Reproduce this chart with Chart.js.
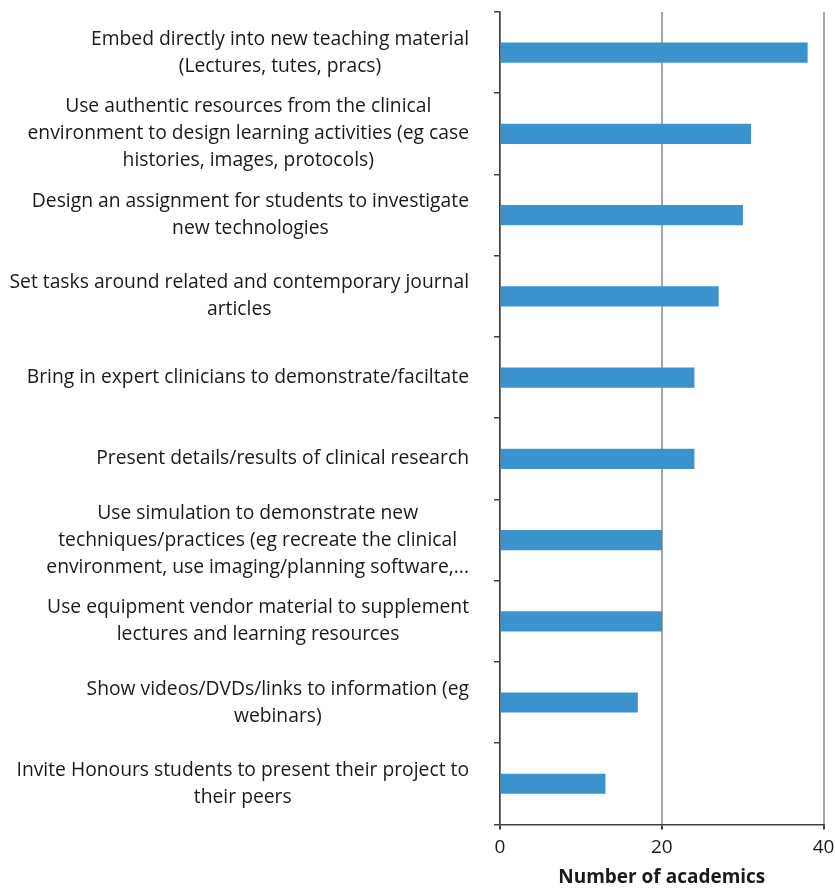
<!DOCTYPE html>
<html>
<head>
<meta charset="utf-8">
<script src="https://cdn.jsdelivr.net/npm/chart.js@4/dist/chart.umd.min.js"></script>
<style>
  html, body { margin: 0; padding: 0; background: #fff; }
  #wrap { width: 835px; height: 889px; position: relative; }
</style>
</head>
<body>
<div id="wrap"><canvas id="c"></canvas></div>
<script>
const categories = [
  ["Embed directly into new teaching material", "(Lectures, tutes, pracs)"],
  ["Use authentic resources from the clinical", "environment to design learning activities (eg case", "histories, images, protocols)"],
  ["Design an assignment for students to investigate", "new technologies"],
  ["Set tasks around related and contemporary journal", "articles"],
  ["Bring in expert clinicians to demonstrate/faciltate"],
  ["Present details/results of clinical research"],
  ["Use simulation to demonstrate new", "techniques/practices (eg recreate the clinical", "environment, use imaging/planning software,..."],
  ["Use equipment vendor material to supplement", "lectures and learning resources"],
  ["Show videos/DVDs/links to information (eg", "webinars)"],
  ["Invite Honours students to present their project to", "their peers"]
];
const academics = [38, 31, 30, 27, 24, 24, 20, 20, 17, 13];
const xTicks = [0, 20, 40];
const xTitle = "Number of academics";

const FONT = "Open Sans";
const labelFont = { family: FONT, size: 19.3 };

const labelPlugin = {
  id: 'blockLabels',
  afterDraw(chart) {
    const ys = chart.scales.y;
    const ctx = chart.ctx;
    ctx.save();
    ctx.font = labelFont.size + "px " + labelFont.family;
    ctx.fillStyle = "#1a1a1a";
    ctx.textAlign = "center";
    ctx.textBaseline = "middle";
    const rightEdge = ys.right - 31;
    const lh = 27;
    categories.forEach((lines, i) => {
      const y = ys.getPixelForTick(i);
      const w = Math.max(...lines.map(l => ctx.measureText(l).width));
      const cx = rightEdge - w / 2;
      lines.forEach((l, j) => {
        ctx.fillText(l, cx, y + (j - (lines.length - 1) / 2) * lh);
      });
    });
    ctx.restore();
  }
};

new Chart(document.getElementById('c'), {
  type: 'bar',
  data: {
    labels: categories,
    datasets: [{
      data: academics,
      backgroundColor: '#3b93cd',
      borderWidth: 0,
      barThickness: 19.5
    }]
  },
  options: {
    indexAxis: 'y',
    responsive: true,
    maintainAspectRatio: false,
    animation: false,
    layout: { padding: { top: 12, right: 11.5, bottom: 0, left: 0 } },
    plugins: { legend: { display: false }, tooltip: { enabled: false } },
    scales: {
      x: {
        min: 0, max: 40,
        afterBuildTicks(scale) { scale.ticks = xTicks.map(v => ({ value: v })); },
        afterFit(scale) { scale.paddingRight = 0; scale.paddingLeft = 0; },
        grid: { color: '#a6a6a6', lineWidth: 2, tickColor: '#404040', tickLength: 5, drawTicks: true },
        border: { color: '#404040', width: 1.5 },
        ticks: { color: '#1a1a1a', font: { family: FONT, size: 19 }, padding: 7, maxRotation: 0 },
        title: { display: true, text: xTitle, color: '#1a1a1a', font: { family: FONT, size: 19, weight: 'bold' }, padding: { top: 0, bottom: 0 } }
      },
      y: {
        offset: true,
        grid: { drawOnChartArea: false, offset: true, drawTicks: true, tickLength: 6, color: '#404040', lineWidth: 1.5 },
        border: { color: '#404040', width: 1.5 },
        ticks: { display: false },
        afterFit(scale) { scale.width = 500; }
      }
    }
  },
  plugins: [labelPlugin]
});
</script>
</body>
</html>
